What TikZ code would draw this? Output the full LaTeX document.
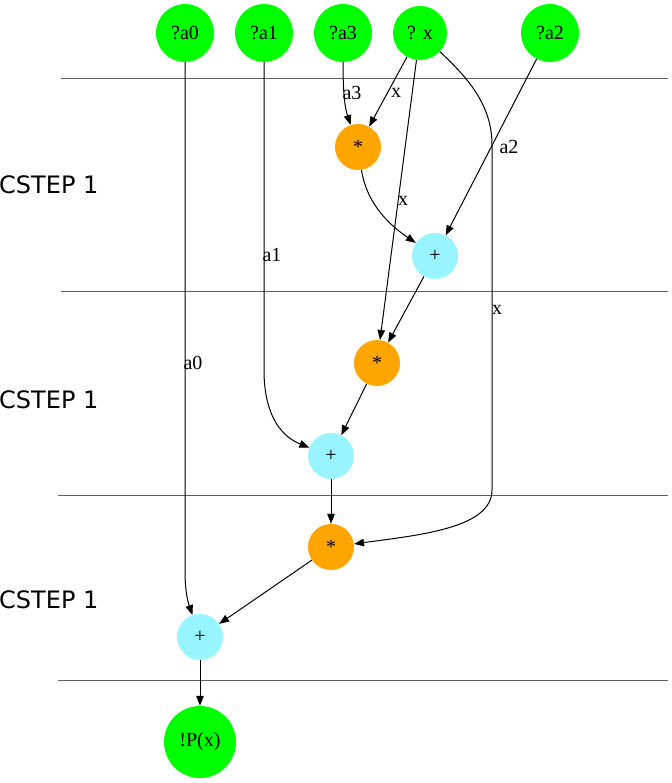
\documentclass[tikz,border=0pt]{standalone}
\usepackage{fontspec}
\setmainfont{Liberation Serif}
\newfontfamily\stepfont{DejaVu Sans}
\usetikzlibrary{arrows.meta}
\definecolor{ingreen}{HTML}{00FF00}
\definecolor{mulorange}{HTML}{FFA500}
\definecolor{addcyan}{HTML}{98F5FF}
\definecolor{sepgray}{HTML}{606060}
\tikzset{
  every node/.style={inner sep=0pt},
  io/.style={circle, fill=ingreen, minimum size=58pt, font=\fontsize{20}{22}\selectfont},
  outnode/.style={circle, fill=ingreen, minimum size=72pt, font=\fontsize{20}{22}\selectfont},
  mulnode/.style={circle, fill=mulorange, minimum size=46pt, font=\fontsize{20}{22}\selectfont},
  addnode/.style={circle, fill=addcyan, minimum size=46pt, font=\fontsize{20}{22}\selectfont},
  edge/.style={line width=1pt, -{Triangle[length=10pt,width=7.5pt]}},
  elabel/.style={font=\fontsize{20}{22}\selectfont},
  sepline/.style={sepgray, line width=1pt},
  steplabel/.style={anchor=west, font=\stepfont\fontsize{24}{26}\selectfont},
}
\begin{document}
\begin{tikzpicture}[x=1pt, y=-1pt]
\useasboundingbox (0,0) rectangle (671,783);

% separators
\coordinate (l1a) at (61,79);  \coordinate (l1b) at (668,79);
\coordinate (l2a) at (61,291); \coordinate (l2b) at (668,291);
\coordinate (l3a) at (58,495); \coordinate (l3b) at (668,495);
\coordinate (l4a) at (58,680); \coordinate (l4b) at (668,680);
\draw[sepline] (l1a) -- (l1b);
\draw[sepline] (l2a) -- (l2b);
\draw[sepline] (l3a) -- (l3b);
\draw[sepline] (l4a) -- (l4b);

\node[steplabel] (s1) at (-1,185) {CSTEP 1};
\node[steplabel] (s2) at (-1,400) {CSTEP 1};
\node[steplabel] (s3) at (-1,600) {CSTEP 1};

% nodes
\node[io] (a0) at (185,33) {?a0};
\node[io] (a1) at (264,33) {?a1};
\node[io] (a3) at (343,33) {?a3};
\node[io, minimum size=54pt] (x) at (420,33) {? x};
\node[io] (a2) at (550,33) {?a2};
\node[mulnode] (m1) at (358,147) {*};
\node[addnode] (p1) at (435,256) {+};
\node[mulnode] (m2) at (377,363) {*};
\node[addnode] (p2) at (331,456) {+};
\node[mulnode] (m3) at (331,547) {*};
\node[addnode] (p3) at (200,637) {+};
\node[outnode] (P) at (200,742) {!P(x)};

% edges
\draw[edge] (a0) -- (185,570) .. controls (185,595) and (189,605) .. (p3);
\draw[edge] (a1) -- (264,370) .. controls (264,420) and (285,438) .. (p2);
\draw[edge] (a3) .. controls (343,95) and (345,108) .. (m1);
\draw[edge] (x) -- (m1);
\draw[edge] (x) -- (m2);
\draw[edge] (x) .. controls (468,78) and (492,105) .. (492,145) -- (492,490) .. controls (492,528) and (420,535) .. (m3);
\draw[edge] (a2) -- (p1);
\draw[edge] (m1) .. controls (366,200) and (385,222) .. (p1);
\draw[edge] (p1) -- (m2);
\draw[edge] (m2) -- (p2);
\draw[edge] (p2) -- (m3);
\draw[edge] (m3) -- (p3);
\draw[edge] (p3) -- (P);

% edge labels
\node[elabel] (la3) at (352,93) {a3};
\node[elabel] (lx1) at (396,93) {x};
\node[elabel] (lx2) at (403,201) {x};
\node[elabel] (la2) at (509,147) {a2};
\node[elabel] (la1) at (272,255) {a1};
\node[elabel] (la0) at (193,363) {a0};
\node[elabel] (lx3) at (497,310) {x};
\end{tikzpicture}
\end{document}
